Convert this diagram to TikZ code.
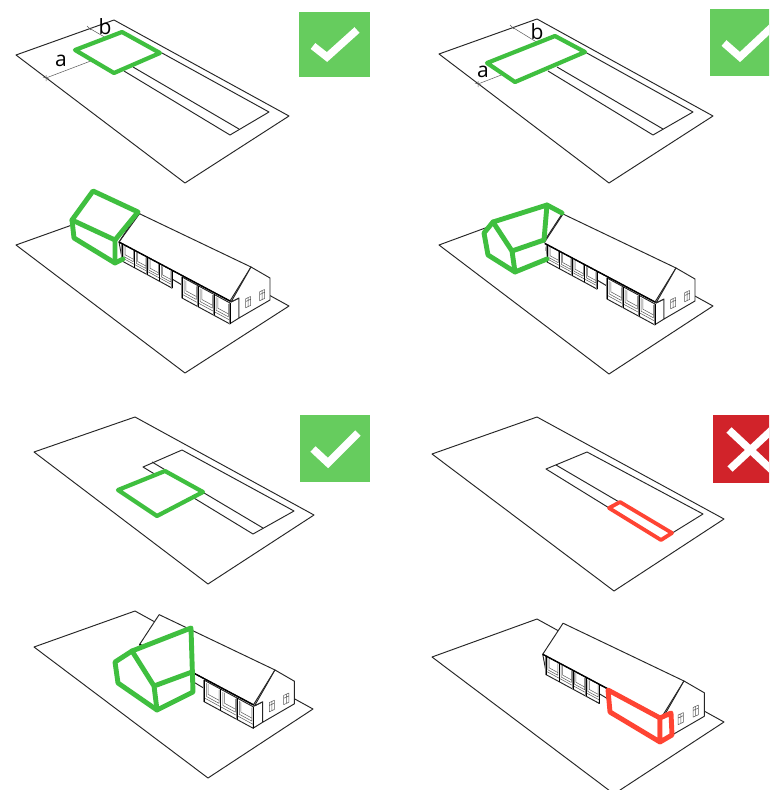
\documentclass[tikz,border=0pt]{standalone}
\usepackage{fontspec}
\setmainfont{Open Sans}
\tikzset{
  ln/.style={draw=black!85,line width=0.95pt,line join=round},
  thinln/.style={draw=black!65,line width=0.5pt,line join=round},
  grn/.style={draw=myGreen,line width=4.9pt,line join=round,line cap=round},
  redl/.style={draw=myRed,line width=4.9pt,line join=round,line cap=round},
  mark box/.style={fill=boxGreen,draw=none},
  tickmark/.style={draw=white,line width=7.5pt,line join=miter},
  dimlabel/.style={font=\fontsize{21}{21}\selectfont,inner sep=0pt,text=black}
}
\definecolor{myGreen}{HTML}{3FBF3F}
\definecolor{boxGreen}{HTML}{66CC5E}
\definecolor{myRed}{HTML}{FF4433}
\definecolor{boxRed}{HTML}{D1232A}
\newcommand\WP[2]{({\wxa+(#1)*(\wxb-\wxa)},{\wya+(#1)*(\wyb-\wya)+(#2)*\wh})}
\newcommand\wingbox[6]{%
  \def\wxa{#1}\def\wya{#2}\def\wxb{#3}\def\wyb{#4}\def\wh{#5}%
  \filldraw[fill=white,ln] \WP{0}{0} -- \WP{1}{0} -- \WP{1}{1} -- \WP{0}{1} -- cycle;
  \draw[thinln] \WP{0}{0.82} -- \WP{1}{0.82};
  \pgfmathsetmacro\bw{1/#6}
  \foreach \i in {1,...,#6}{
    \pgfmathsetmacro\ta{(\i-1)*\bw+0.14*\bw}
    \pgfmathsetmacro\tb{\i*\bw-0.1*\bw}
    \pgfmathsetmacro\tc{(\i-1)*\bw+0.24*\bw}
    \draw[thinln] \WP{\ta}{0.08} -- \WP{\ta}{0.70} -- \WP{\tb}{0.70} -- \WP{\tb}{0.08};
    \draw[thinln] \WP{\tc}{0.08} -- \WP{\tc}{0.56} -- \WP{\tb}{0.56};
  }
  \foreach \i in {0,...,#6}{
    \pgfmathsetmacro\tt{\i*\bw}
    \draw[draw=black!50,line width=1.6pt] \WP{\tt}{0} -- \WP{\tt}{1};
    \draw[draw=black,line width=0.35pt] \WP{\tt}{0} -- \WP{\tt}{1};
  }
}
\newcommand\gablewin[2]{%
  \draw[thinln,shift={(#1,#2)}] (-2.5,-3.2) -- (2.5,-5.5) -- (2.5,3.5) -- (-2.5,5.8) -- cycle
    (0,-4.3) -- (0,4.6) (-2.5,-0.4) -- (2.5,-2.7);
}
\newcommand\housebody{%
  \filldraw[fill=white,ln] (119,242) -- (230,301) -- (231,302) -- (239,298) -- (239,318) -- (231,323)
     -- (182,297) -- (182,285) -- (172,279) -- (172,288) -- (122,258) -- cycle;
  \wingbox{122}{243}{172}{270}{18}{4}
  \wingbox{182}{277}{230}{303}{21}{3}
  \filldraw[fill=white,ln] (138,213) -- (251,267) -- (230,301) -- (119,242) -- cycle;
  \draw[draw=black,line width=1.4pt] (119,242) -- (230,301);
  \filldraw[fill=white,ln] (251,267) -- (270,278) -- (270,300) -- (239,318) -- (239,298) -- (231,302) -- cycle;
  \gablewin{248}{302}
  \gablewin{262}{295}
}
\begin{document}
\begin{tikzpicture}[x=1pt,y=-1pt]
\clip (0,0) rectangle (769,790);
\fill[white] (0,0) rectangle (769,790);

% ---------- Panel 1
\draw[ln] (16,55) -- (114,20) -- (289,116) -- (185,183) -- cycle;
\draw[ln] (162,53) -- (269,112) -- (230,135) -- (124,71);
\draw[ln] (133,67) -- (239,129);
\coordinate (a1s) at (46,78); \coordinate (a1e) at (96,59);
\coordinate (b1s) at (89,28); \coordinate (b1e) at (108,39);
\draw[thinln] (a1s) -- (a1e) (b1s) -- (b1e);
\draw[thinln] (46,75) -- (46,81) (43,77) -- (49,79) (94,57) -- (98,61) (87,26) -- (91,30) (106,37) -- (110,41);
\filldraw[fill=white,grn,line width=4.2pt] (75,50) -- (122,32) -- (160,53) -- (114,73) -- cycle;
\node[dimlabel] (a1) at (61,61) {a};
\node[dimlabel] (b1) at (105,27) {b};
\fill[mark box] (299,12) rectangle (370,77);
\draw[tickmark] (313,46) -- (327,57) -- (357,30);

% ---------- Panel 2
\draw[ln] (439,54) -- (537,19) -- (713,116) -- (609,183) -- cycle;
\draw[ln] (585,52) -- (693,112) -- (653,135) -- (548,71);
\draw[ln] (557,67) -- (663,129);
\coordinate (a2s) at (478,84); \coordinate (a2e) at (509,72);
\coordinate (b2s) at (512,27); \coordinate (b2e) at (543,46);
\draw[thinln] (a2s) -- (a2e) (b2s) -- (b2e);
\draw[thinln] (478,81) -- (478,87) (475,83) -- (481,85) (507,70) -- (511,74) (510,25) -- (514,29) (541,44) -- (545,48);
\filldraw[fill=white,grn,line width=4.2pt] (487,63) -- (555,36) -- (585,52) -- (515,82) -- cycle;
\node[dimlabel] (a2) at (483,72) {a};
\node[dimlabel] (b2) at (537,32) {b};
\fill[mark box] (710,9) rectangle (775,76);
\draw[tickmark] (724,43) -- (740,57) -- (772,27);

% ---------- Panel 3
\draw[ln] (34,452) -- (135,417) -- (314,515) -- (208,584) -- cycle;
\draw[ln] (182,450) -- (294,511) -- (253,534) -- (143,467) -- cycle;
\draw[ln] (152,462) -- (263,528);
\filldraw[fill=white,grn,line width=4.2pt] (118,490) -- (165,471) -- (203,492) -- (157,516) -- cycle;
\fill[mark box] (300,415) rectangle (370,482);
\draw[tickmark] (313,449) -- (328,463) -- (358,433);

% ---------- Panel 4
\draw[ln] (432,454) -- (537,417) -- (724,519) -- (614,591) -- cycle;
\draw[ln] (587,452) -- (703,514) -- (661,540) -- (546,469) -- cycle;
\draw[ln] (556,465) -- (672,533);
\filldraw[fill=white,draw=myRed,line width=3.8pt,line join=round] (609,508) -- (620,502) -- (672,533) -- (661,540) -- cycle;
\fill[boxRed] (713,415) rectangle (775,483);
\draw[draw=white,line width=7.5pt] (729,430) -- (775,473) (730,469) -- (775,427);

% ---------- Panel 5
\draw[ln] (16,245) -- (114,210) -- (289,306) -- (185,373) -- cycle;
\housebody
\fill[white] (93,191) -- (72,220) -- (74,238) -- (115,263) -- (115,240) -- (138,212) -- cycle;
\draw[ln] (140,213) -- (119,242);
\draw[grn] (115,240) -- (138,212) -- (93,191) -- (72,220) -- (74,238) -- (115,263) -- (123,259);
\draw[grn] (72,220) -- (115,240) -- (115,263);

% ---------- Panel 6
\draw[ln] (439,245) -- (537,209) -- (713,306) -- (609,374) -- cycle;
\begin{scope}[shift={(425,1)}]
\housebody
\end{scope}
\fill[white] (547,205) -- (493,222) -- (484,233) -- (488,255) -- (515,272) -- (547,259) -- (544,240) -- cycle;
\fill[white] (562,213) -- (547,205) -- (544,240) -- cycle;
\draw[ln] (562,214) -- (545,240);
\draw[grn] (562,213) -- (547,205) -- (493,222) -- (484,233) -- (488,255) -- (515,272) -- (547,259);
\draw[grn] (547,205) -- (544,240) -- (512,251) -- (515,272) (493,222) -- (512,251);

% ---------- Panel 7
\draw[ln] (34,647) -- (135,611) -- (313,709) -- (208,778) -- cycle;
\begin{scope}[shift={(17.7,396.3)},scale=1.025]
\housebody
\end{scope}
\filldraw[fill=white,grn] (191,628) -- (132,651) -- (115,662) -- (118,683) -- (157,710) -- (193,692) -- cycle;
\draw[grn] (192,672) -- (154,686) -- (157,710) (132,651) -- (154,686);

% ---------- Panel 8
\draw[ln] (432,657) -- (537,619) -- (724,722) -- (614,794) -- cycle;
\begin{scope}[shift={(415.4,395.3)},scale=1.07]
\housebody
\end{scope}
\filldraw[fill=white,redl] (608,690) -- (660,718) -- (660,742) -- (610,712) -- cycle;
\filldraw[fill=white,redl] (660,718) -- (671,713) -- (672,735) -- (660,742) -- cycle;
\end{tikzpicture}
\end{document}
